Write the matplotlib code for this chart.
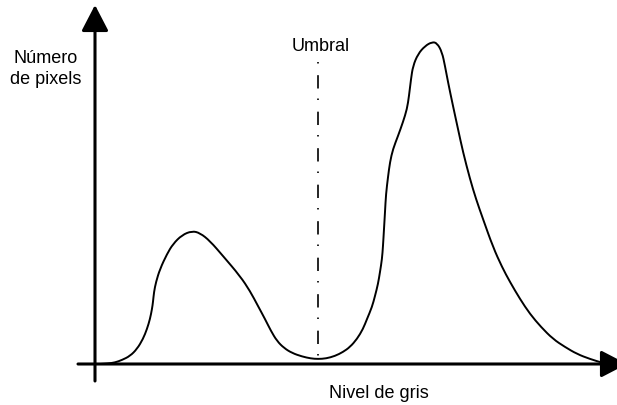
import matplotlib
matplotlib.use("Agg")
import matplotlib.pyplot as plt
from matplotlib.patches import FancyArrowPatch, PathPatch
from matplotlib.path import Path

plt.rcParams['font.family'] = ['Liberation Sans', 'DejaVu Sans']

# histogram sketch: gray level vs number of pixels (arbitrary units)
gray_level = [5, 13, 20, 27, 35, 42, 48, 52, 55, 57,
              58, 59, 61, 65, 72, 78, 87, 97, 105, 115,
              128, 145, 155, 163, 170, 176, 182, 189, 197, 207,
              216, 223, 231, 240, 248, 255, 262, 268, 272, 277,
              280, 283, 285, 287, 288, 289, 290, 291, 293, 295,
              298, 303, 308, 312, 314, 316, 318, 323, 330, 337,
              342, 347, 350, 353, 358, 363, 368, 375, 381, 388,
              398, 407, 415, 425, 435, 446, 458, 470, 482, 495,
              508, 517]
pixel_count = [0, 0.5, 1.5, 4, 8, 15, 25, 35, 45, 55,
               62, 72, 82, 95, 110, 120, 129, 133, 131, 123,
               108, 88, 73, 58, 45, 33, 23, 16, 11, 7.5,
               5.5, 5, 5.5, 8, 12, 17, 25, 35, 45, 57,
               68, 80, 92, 105, 118, 135, 152, 170, 187, 202,
               215, 228, 242, 255, 268, 285, 298, 310, 318, 322,
               321, 312, 298, 282, 258, 235, 212, 185, 165, 145,
               117, 97, 82, 65, 50, 37, 25, 17, 10, 5,
               1, -1]

threshold = 223
threshold_top = 302

fig = plt.figure(figsize=(6.17, 4.06), dpi=100)
ax = fig.add_axes([0, 0, 1, 1])
ax.set_xlim(-95, 522)
ax.set_ylim(-41, 365)
ax.axis('off')

# axes with arrow heads
arrow_style = '-|>,head_length=16,head_width=8.3'
ax.add_patch(FancyArrowPatch((0, -17), (0, 359), arrowstyle=arrow_style,
                             mutation_scale=1, lw=2.2, color='black',
                             shrinkA=0, shrinkB=0))
ax.add_patch(FancyArrowPatch((-17, 0), (532, 0), arrowstyle=arrow_style,
                             mutation_scale=1, lw=2.2, color='black',
                             shrinkA=0, shrinkB=0))

# histogram curve, drawn as a smooth path through the read points
pts = list(zip(gray_level, pixel_count))
verts = [pts[0]]
codes = [Path.MOVETO]
for i in range(1, len(pts) - 1):
    mid = ((pts[i][0] + pts[i + 1][0]) / 2, (pts[i][1] + pts[i + 1][1]) / 2)
    verts += [pts[i], mid]
    codes += [Path.CURVE3, Path.CURVE3]
verts.append(pts[-1])
codes.append(Path.LINETO)
ax.add_patch(PathPatch(Path(verts, codes), facecolor='none', edgecolor='black',
                       lw=1.4, zorder=3))

# threshold line (dash-dot, starting with a dot at the top)
ax.plot([threshold, threshold], [threshold_top, pixel_count[gray_level.index(threshold)]],
        color='black', lw=1.2, dashes=(0.9, 7, 8, 6))

ax.text(threshold + 3, 314, 'Umbral', ha='center', va='baseline', fontsize=13)
ax.text(-49, 302, 'Número', ha='center', va='baseline', fontsize=13)
ax.text(-49, 281, 'de pixels', ha='center', va='baseline', fontsize=13)
ax.text(284, -33, 'Nivel de gris', ha='center', va='baseline', fontsize=13)

fig.savefig('out.png', dpi=100, facecolor='white')
